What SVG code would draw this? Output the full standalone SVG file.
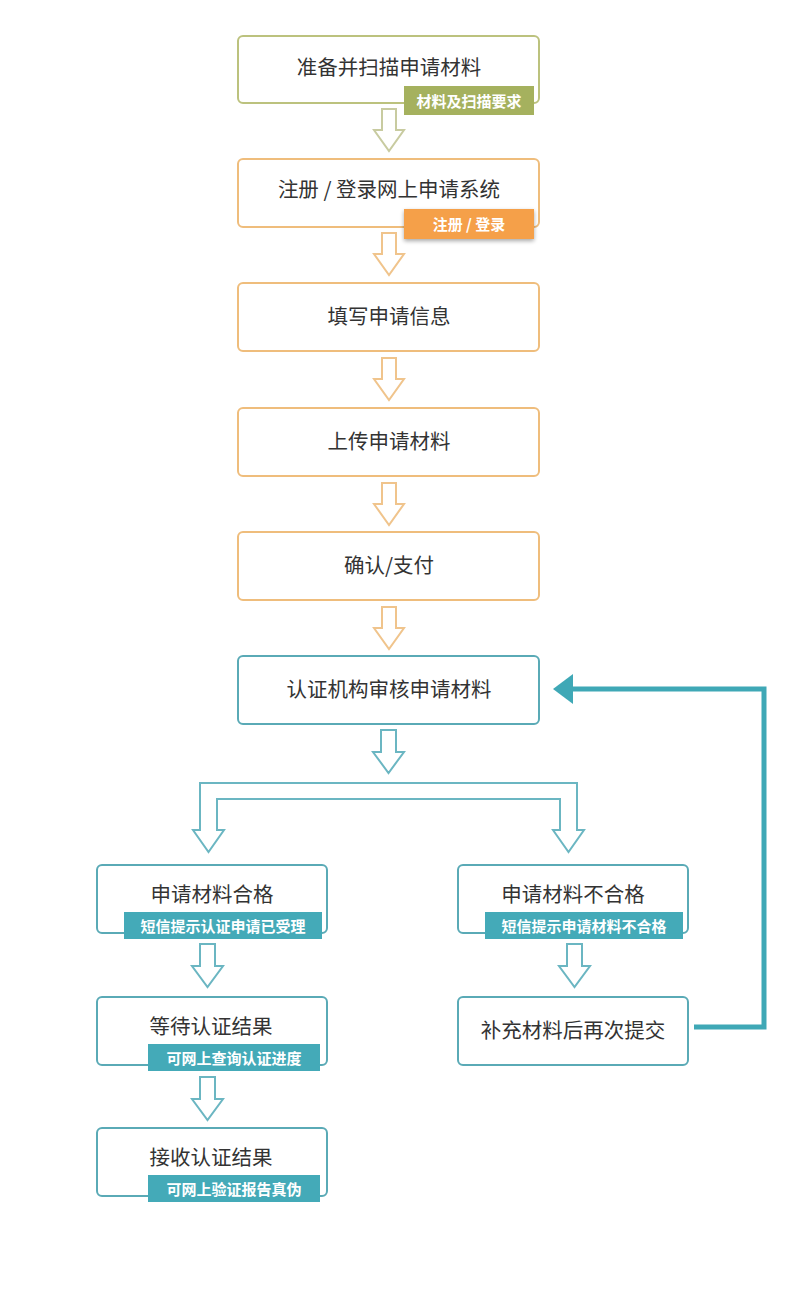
<svg xmlns="http://www.w3.org/2000/svg" width="800" height="1300" viewBox="0 0 800 1300">
<defs>
<style>
.box{fill:#fff;stroke-width:2}
.g{stroke:#bcc27e}
.o{stroke:#efbd7c}
.t{stroke:#5aaab6}
.lbl{font-family:"Noto Sans CJK SC","Liberation Sans",sans-serif;font-size:20.5px;fill:#333;text-anchor:middle;dominant-baseline:central}
.bt{font-family:"Noto Sans CJK SC","Liberation Sans",sans-serif;font-size:15px;font-weight:bold;fill:#fff;text-anchor:middle;dominant-baseline:central}
.arr{fill:#fff;stroke-width:2;stroke-linejoin:miter}
</style>
<filter id="sh" x="-10%" y="-30%" width="120%" height="160%"><feGaussianBlur in="SourceAlpha" stdDeviation="2"/><feOffset dx="0" dy="2"/><feComponentTransfer><feFuncA type="linear" slope="0.35"/></feComponentTransfer><feMerge><feMergeNode/><feMergeNode in="SourceGraphic"/></feMerge></filter>
</defs>
<rect width="800" height="1300" fill="#fff"/>

<g id="connectors">
<path class="arr" stroke="#c8cba0" d="M382,109 H396 V130 H404 L389,151 L374,130 H382 Z"/>
<path class="arr" stroke="#f0c48c" d="M382,233 H396 V254 H404 L389,275 L374,254 H382 Z"/>
<path class="arr" stroke="#f0c48c" d="M382,358 H396 V379 H404 L389,400 L374,379 H382 Z"/>
<path class="arr" stroke="#f0c48c" d="M382,483 H396 V504 H404 L389,525 L374,504 H382 Z"/>
<path class="arr" stroke="#f0c48c" d="M382,607 H396 V628 H404 L389,649 L374,628 H382 Z"/>
<path class="arr" stroke="#6bb6c2" d="M381,730 H396 V752 H404 L388.5,773 L373,752 H381 Z"/>
<path class="arr" stroke="#6bb6c2" d="M200,830 V783 H577 V830 H584 L568.5,852 L553,830 H560 V799 H217 V830 H224 L208.5,852 L193,830 H200 Z"/>
<path class="arr" stroke="#6bb6c2" d="M200,944 H215 V966 H223 L207.5,987 L192,966 H200 Z"/>
<path class="arr" stroke="#6bb6c2" d="M567,944 H582 V966 H590 L574.5,987 L559,966 H567 Z"/>
<path class="arr" stroke="#6bb6c2" d="M200,1077 H215 V1099 H223 L207.5,1120 L192,1099 H200 Z"/>
<path d="M694,1027 H764 V689 H572" fill="none" stroke="#3fa8b6" stroke-width="5"/>
<polygon points="553,689 573,674 573,704" fill="#3fa8b6"/>
</g>

<g id="n1">
<rect class="box g" x="238" y="36" width="301" height="67" rx="5"/>
<text class="lbl" x="389" y="66">准备并扫描申请材料</text>
<rect x="404" y="86" width="130" height="29" fill="#a5b15e"/>
<text class="bt" x="469" y="100">材料及扫描要求</text>
</g>
<g id="n2">
<rect class="box o" x="238" y="159" width="301" height="68" rx="5"/>
<text class="lbl" x="389" y="188">注册 / 登录网上申请系统</text>
<rect x="404" y="209" width="130" height="30" fill="#f5a04a" filter="url(#sh)"/>
<text class="bt" x="469" y="223">注册 / 登录</text>
</g>
<g id="n3">
<rect class="box o" x="238" y="283" width="301" height="68" rx="5"/>
<text class="lbl" x="389" y="315">填写申请信息</text>
</g>
<g id="n4">
<rect class="box o" x="238" y="408" width="301" height="68" rx="5"/>
<text class="lbl" x="389" y="440">上传申请材料</text>
</g>
<g id="n5">
<rect class="box o" x="238" y="532" width="301" height="68" rx="5"/>
<text class="lbl" x="389" y="564">确认/支付</text>
</g>
<g id="n6">
<rect class="box t" x="238" y="656" width="301" height="68" rx="5"/>
<text class="lbl" x="389" y="688">认证机构审核申请材料</text>
</g>
<g id="n7">
<rect class="box t" x="97" y="865" width="230" height="68" rx="5"/>
<text class="lbl" x="212" y="893">申请材料合格</text>
<rect x="124" y="912" width="198" height="27" fill="#44aab8"/>
<text class="bt" x="223" y="925">短信提示认证申请已受理</text>
</g>
<g id="n8">
<rect class="box t" x="458" y="865" width="230" height="68" rx="5"/>
<text class="lbl" x="573" y="893">申请材料不合格</text>
<rect x="485" y="912" width="198" height="27" fill="#44aab8"/>
<text class="bt" x="584" y="925">短信提示申请材料不合格</text>
</g>
<g id="n9">
<rect class="box t" x="97" y="997" width="230" height="68" rx="5"/>
<text class="lbl" x="211" y="1025">等待认证结果</text>
<rect x="148" y="1044" width="172" height="27" fill="#44aab8"/>
<text class="bt" x="234" y="1057">可网上查询认证进度</text>
</g>
<g id="n10">
<rect class="box t" x="458" y="997" width="230" height="68" rx="5"/>
<text class="lbl" x="573" y="1029">补充材料后再次提交</text>
</g>
<g id="n11">
<rect class="box t" x="97" y="1128" width="230" height="68" rx="5"/>
<text class="lbl" x="211" y="1156">接收认证结果</text>
<rect x="148" y="1175" width="172" height="27" fill="#44aab8"/>
<text class="bt" x="234" y="1188">可网上验证报告真伪</text>
</g>
</svg>
